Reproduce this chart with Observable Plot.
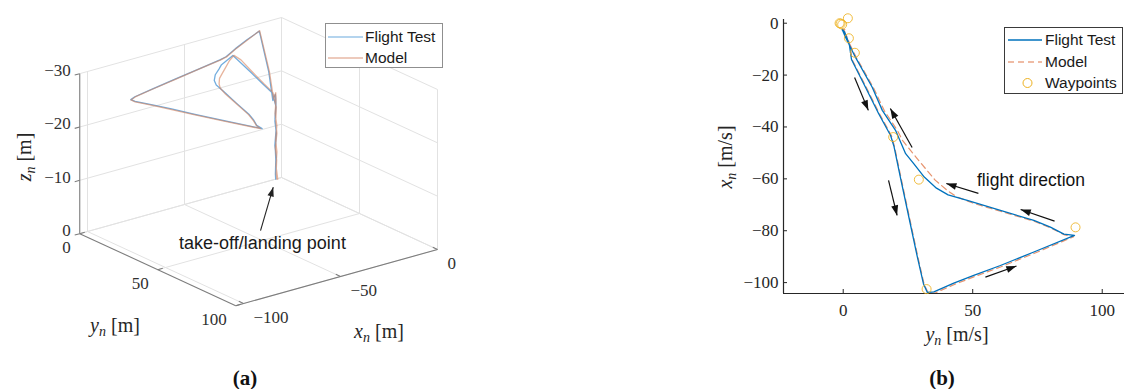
<!DOCTYPE html>
<html><head><meta charset="utf-8">
<script src="https://cdn.jsdelivr.net/npm/d3@7"></script>
<script src="https://cdn.jsdelivr.net/npm/@observablehq/plot@0.6"></script>
<style>
html,body{margin:0;padding:0;background:#fff;}
#root{position:relative;width:1125px;height:389px;overflow:hidden;background:#fff;}
.abs{position:absolute;}
.lbl{position:absolute;font-family:"Liberation Serif",serif;font-size:20px;color:#262626;white-space:nowrap;transform:translate(-50%,-50%);line-height:1;}
.lbl sub{font-size:0.7em;vertical-align:-0.3em;line-height:0;}
.lbl.rot{transform:translate(-50%,-50%) rotate(-90deg);}
.cap{position:absolute;font-family:"Liberation Serif",serif;font-weight:bold;font-size:21px;color:#111;transform:translate(-50%,-50%);line-height:1;}
.legend{position:absolute;background:#fff;box-sizing:border-box;font-family:"Liberation Sans",Arial,sans-serif;font-size:15.5px;color:#1a1a1a;}
.legend .row{position:absolute;left:0;height:20px;width:100%;}
.legend .row svg{position:absolute;left:0;top:0;}
.legend .row span{position:absolute;top:50%;transform:translateY(-50%);white-space:nowrap;line-height:1;}
</style></head><body><div id="root"></div>
<script>
// ---------------- data ----------------
// Flight test trajectory (x_n, y_n, z_n) [m]
const ftX = [-3.0,-3.5,-2.4,-3.9,-2.6,-4.0,-2.7,-3.4,-5.6,-8.5,-14.0,-24.7,-34.9,-43.3,-47.5,-60,-75,-90,-100.5,-103.8,-103.6,-100.2,-97.2,-93.4,-88.2,-81.8,-81.3,-78.6,-76.0,-72.2,-68.3,-66.2,-63.6,-59.3,-54.2,-50.3,-41.3,-33.6,-24.7,-13.1,-5.4,-2.6,-3.8,-2.5,-3.7,-2.7,-3.3,-3.0];
const ftY = [0.0,0.6,-0.4,0.6,-0.3,0.8,-0.2,0.3,1.4,2.4,3.2,8.6,13.7,18.3,19.6,22.2,25.4,28.6,31.0,32.5,35.0,42.7,50.4,60.7,73.6,89.3,85.2,80.0,73.6,60.7,47.9,40.5,36.0,31.3,27.3,24.1,20.2,15.1,11.2,4.7,0.9,-0.3,0.5,-0.2,0.6,-0.3,0.2,0.0];
const ftZ = [0,-2,-4,-6.5,-9,-11.5,-14,-16,-15.2,-21,-29.3,-29.5,-29.5,-29.5,-29.5,-29.5,-29.5,-29.5,-29.5,-29.5,-29.5,-29.5,-29.5,-29.5,-29.5,-29.5,-29.5,-29.5,-29.5,-29.5,-29.5,-29.5,-29.5,-29.5,-29.5,-29.5,-29.8,-27.1,-23.7,-19.4,-16.5,-13.5,-11,-8.5,-6,-3.5,-1,0];
// Model trajectory (x_n, y_n, z_n) [m]
const mdX = [-2.4,-3.0,-2.2,-3.6,-2.4,-3.8,-2.9,-3.3,-5.3,-8.3,-14.0,-24.7,-34.9,-43.3,-47.5,-60,-75,-90,-100.5,-104.0,-104.0,-100.8,-97.8,-94.0,-88.8,-82.3,-81.6,-79.0,-76.3,-72.5,-69.5,-67.0,-64.5,-60.5,-56.8,-51.5,-45.2,-41.3,-33.6,-24.7,-13.1,-5.5,-2.8,-3.5,-2.3,-3.6,-2.5,-3.1,-2.6];
const mdY = [0.6,0.2,-0.2,0.7,0.0,0.6,0.1,0.4,1.5,2.6,3.4,8.9,14.0,18.6,19.8,22.4,25.6,28.8,31.2,32.8,35.5,42.7,50.4,60.7,73.6,89.0,85.5,80.2,73.6,60.7,50.5,44.0,40.2,35.5,32.4,28.0,22.9,20.9,15.8,11.6,5.0,1.3,0.1,0.7,-0.1,0.5,0.0,0.4,0.3];
const mdZ = [0,-2.5,-5,-7.5,-10,-12.5,-15,-16.3,-15.5,-21,-29.4,-29.5,-29.5,-29.5,-29.5,-29.5,-29.5,-29.5,-29.5,-29.5,-29.5,-29.5,-29.5,-29.5,-29.5,-29.5,-29.5,-29.5,-29.5,-29.5,-29.5,-29.5,-29.5,-29.5,-29.5,-29.5,-29.6,-29.9,-27.6,-24.0,-19.6,-16.7,-13.5,-11,-8.5,-6,-3.5,-1,0];
// Waypoints (x_n, y_n)
const wpX = [1.9,-0.2,-0.5,0.0,-5.8,-11.4,-43.9,-60.3,-78.7,-102.5];
const wpY = [1.8,-1.0,-0.4,-1.4,2.2,4.5,19.3,29.2,89.7,32.2];
// Panel (a) axes
const xTicksA = [-100,-50,0];
const yTicksA = [0,50,100];
const zTicksA = [-30,-20,-10,0];
const xLimA = [-104,0];
const yLimA = [0,100];
const zLimA = [-30,0];
// Panel (b) axes (horizontal: y_n, vertical: x_n)
const hTicksB = [0,50,100];
const vTicksB = [-100,-80,-60,-40,-20,0];
const hLimB = [-23.05,108.6];
const vLimB = [-104.2,1.43];
// Legend / annotation texts
const seriesNames = ["Flight Test","Model","Waypoints"];
const annotA = {x:-52.1, y:52.6, text:"take-off/landing point", tail:[-43.7,40.9], tip:[-9.4,6.4]};
const annotB = {h:72.5, v:-60.6, text:"flight direction"};
// flight direction arrows (y_n, x_n) tail -> head
const arrH1 = [4.4,26.6,17.5,52.2,81.6,54.9];
const arrV1 = [-20.9,-47.9,-60.6,-65.6,-76.3,-97.9];
const arrH2 = [9.7,18.2,20.8,39.8,68.5,66.9];
const arrV2 = [-33.6,-32.9,-74.1,-61.8,-71.8,-93.6];

// --------------- helpers ---------------
const fmt = d => (d < 0 ? "\u2212" + Math.abs(d) : String(d));
const headSym = {draw(ctx, size){const r=Math.sqrt(size/Math.PI);const L=2.6*r,w=0.9*r;ctx.moveTo(0,0);ctx.lineTo(w,L);ctx.lineTo(-w,L);ctx.closePath();}};
const ft = ftX.map((x,i)=>({xn:x, yn:ftY[i], zn:ftZ[i]}));
const md = mdX.map((x,i)=>({xn:x, yn:mdY[i], zn:mdZ[i]}));
const wp = wpX.map((x,i)=>({xn:x, yn:wpY[i]}));

// 3D orthographic view of panel (a)
const O=[281,177], EX=[1.94,-0.54], EY=[1.56,0.72], EZ=5.333;
const P = (x,y,z) => [O[0]+x*EX[0]+y*EY[0], O[1]+x*EX[1]+y*EY[1]+z*EZ];
const seg = (a,b) => {const p=P(...a), q=P(...b); return {u1:p[0],v1:p[1],u2:q[0],v2:q[1]};};

const grid = [];
for (const x of xTicksA) grid.push(seg([x,yLimA[0],0],[x,yLimA[1],0]));
for (const y of yTicksA) grid.push(seg([xLimA[0],y,0],[xLimA[1],y,0]));
for (const x of xTicksA) grid.push(seg([x,yLimA[0],zLimA[0]],[x,yLimA[0],zLimA[1]]));
for (const z of zTicksA) grid.push(seg([xLimA[0],yLimA[0],z],[xLimA[1],yLimA[0],z]));
for (const y of yTicksA) grid.push(seg([xLimA[1],y,zLimA[0]],[xLimA[1],y,zLimA[1]]));
for (const z of zTicksA) grid.push(seg([xLimA[1],yLimA[0],z],[xLimA[1],yLimA[1],z]));

const axesA = [
  seg([xLimA[0],yLimA[0],zLimA[0]],[xLimA[0],yLimA[0],zLimA[1]]),
  seg([xLimA[0],yLimA[0],0],[xLimA[0],yLimA[1],0]),
  seg([xLimA[0],yLimA[1],0],[xLimA[1],yLimA[1],0])
];
for (const z of zTicksA) axesA.push(seg([xLimA[0],yLimA[0],z],[xLimA[0]-2.6,yLimA[0],z]));
for (const y of yTicksA) axesA.push(seg([xLimA[0],y,0],[xLimA[0]+2.6,y,0]));
for (const x of xTicksA) axesA.push(seg([x,yLimA[1],0],[x,yLimA[1]-3,0]));

const zLab = zTicksA.map(z=>{const p=P(xLimA[0],yLimA[0],z);return {u:p[0],v:p[1],t:fmt(z)};});
const yLab = yTicksA.map(y=>{const p=P(xLimA[0],y,0);return {u:p[0],v:p[1],t:fmt(y)};});
const xLab = xTicksA.map(x=>{const p=P(x,yLimA[1],0);return {u:p[0],v:p[1],t:fmt(x)};});

const ftA = ft.map(d=>{const p=P(d.xn,d.yn,d.zn);return {u:p[0],v:p[1]};});
const mdA = md.map(d=>{const p=P(d.xn,d.yn,d.zn);return {u:p[0],v:p[1]};});
const tA = P(annotA.tail[0],annotA.tail[1],0), hA = P(annotA.tip[0],annotA.tip[1],0), txA = P(annotA.x,annotA.y,0);
const arrA = [{u1:tA[0],v1:tA[1],u2:hA[0],v2:hA[1],rot:Math.atan2(hA[0]-tA[0],-(hA[1]-tA[1]))*180/Math.PI}];
const txtA = [{u:txA[0],v:txA[1],t:annotA.text}];

const tickTextA = {x:"u",y:"v",text:"t",fill:"#303030",fontSize:17,letterSpacing:"0.5px"};
const plotA = Plot.plot({
  width:460, height:389, margin:0,
  x:{type:"identity", axis:null}, y:{type:"identity", axis:null},
  style:{background:"transparent", fontFamily:"Liberation Serif", fontSize:"17px"},
  marks:[
    Plot.link(grid,{x1:"u1",y1:"v1",x2:"u2",y2:"v2",stroke:"#e2e2e2",strokeWidth:1}),
    Plot.link(axesA,{x1:"u1",y1:"v1",x2:"u2",y2:"v2",stroke:"#7d7d7d",strokeWidth:1.1}),
    Plot.text(zLab,{...tickTextA,textAnchor:"end",dx:-9,dy:-3}),
    Plot.text(yLab,{...tickTextA,textAnchor:"end",dx:-9,dy:14}),
    Plot.text(xLab,{...tickTextA,textAnchor:"start",dx:10,dy:14}),
    Plot.line(ftA,{x:"u",y:"v",stroke:"#5b9fd8",strokeWidth:1.3,strokeOpacity:0.85}),
    Plot.line(mdA,{x:"u",y:"v",stroke:"#d7825c",strokeWidth:1.3,strokeOpacity:0.6}),
    Plot.link(arrA,{x1:"u1",y1:"v1",x2:"u2",y2:"v2",stroke:"#222",strokeWidth:1.1}),
    Plot.dot(arrA,{x:"u2",y:"v2",symbol:headSym,r:3.6,fill:"#222",stroke:"none",rotate:"rot"}),
    Plot.text(txtA,{x:"u",y:"v",text:"t",fontFamily:"Liberation Sans",fontSize:18,fill:"#1a1a1a"})
  ]
});

// --------------- panel (b) ---------------
const WB=425, HB=340, mL=83, mR=1, mT=19, mB=47;
const pw = WB-mL-mR, ph = HB-mT-mB;
const kx = pw/(hLimB[1]-hLimB[0]), ky = ph/(vLimB[1]-vLimB[0]);
const arrB = arrH1.map((h,i)=>({h1:h,v1:arrV1[i],h2:arrH2[i],v2:arrV2[i],
  rot:Math.atan2((arrH2[i]-h)*kx, (arrV2[i]-arrV1[i])*ky)*180/Math.PI}));

const plotB = Plot.plot({
  width:WB, height:HB, marginLeft:mL, marginRight:mR, marginTop:mT, marginBottom:mB,
  x:{domain:hLimB}, y:{domain:vLimB},
  style:{background:"transparent", fontFamily:"Liberation Serif", fontSize:"17px", color:"#262626"},
  marks:[
    Plot.ruleX([hLimB[0]],{stroke:"#262626",strokeWidth:1.2}),
    Plot.ruleY([vLimB[0]],{stroke:"#262626",strokeWidth:1.2}),
    Plot.tickX(hTicksB,{x:d=>d,insetTop:ph-4,stroke:"#262626"}),
    Plot.tickY(vTicksB,{y:d=>d,insetRight:pw-4,stroke:"#262626"}),
    Plot.axisX({ticks:hTicksB,tickSize:0,tickPadding:10,tickFormat:fmt,label:null,fill:"#262626",letterSpacing:"0.5px"}),
    Plot.axisY({ticks:vTicksB,tickSize:0,tickPadding:5,tickFormat:fmt,label:null,fill:"#262626",letterSpacing:"0.5px"}),
    Plot.line(md,{x:"yn",y:"xn",stroke:"#E0784A",strokeWidth:1.2,strokeDasharray:"6,4",strokeOpacity:0.8,clip:true}),
    Plot.line(ft,{x:"yn",y:"xn",stroke:"#0072BD",strokeWidth:1.3,clip:true}),
    Plot.dot(wp,{x:"yn",y:"xn",r:4.5,stroke:"#EDB120",strokeOpacity:0.85,fill:"none",strokeWidth:1}),
    Plot.link(arrB,{x1:"h1",y1:"v1",x2:"h2",y2:"v2",stroke:"#111",strokeWidth:1.2}),
    Plot.dot(arrB,{x:"h2",y:"v2",symbol:headSym,r:3.9,fill:"#111",stroke:"none",rotate:"rot"}),
    Plot.text([annotB],{x:"h",y:"v",text:"text",fontFamily:"Liberation Sans",fontSize:17.5,fill:"#111"})
  ]
});

// --------------- assemble ---------------
const root = document.getElementById("root");
const wrapA = document.createElement("div"); wrapA.className="abs"; wrapA.style.left="0px"; wrapA.style.top="0px"; wrapA.appendChild(plotA); root.appendChild(wrapA);
const wrapB = document.createElement("div"); wrapB.className="abs"; wrapB.style.left="700px"; wrapB.style.top="0px"; wrapB.appendChild(plotB); root.appendChild(wrapB);

function label(html, cx, cy, rot){const s=document.createElement("div");s.className="lbl"+(rot?" rot":"");s.innerHTML=html;s.style.left=cx+"px";s.style.top=cy+"px";root.appendChild(s);}
label("<i>z</i><sub><i>n</i></sub>&nbsp;[m]",24,157,true);
label("<i>y</i><sub><i>n</i></sub>&nbsp;[m]",115,325,false);
label("<i>x</i><sub><i>n</i></sub>&nbsp;[m]",379,331,false);
label("<i>x</i><sub><i>n</i></sub>&nbsp;[m/s]",725,157,true);
label("<i>y</i><sub><i>n</i></sub>&nbsp;[m/s]",957,334,false);

function cap(t,cx,cy){const s=document.createElement("div");s.className="cap";s.textContent=t;s.style.left=cx+"px";s.style.top=cy+"px";root.appendChild(s);}
cap("(a)",245,378); cap("(b)",942,378);

function legend(x,y,w,h,border,rows){
  const L=document.createElement("div");L.className="legend";
  Object.assign(L.style,{left:x+"px",top:y+"px",width:w+"px",height:h+"px",border:border});
  rows.forEach(r=>{
    const row=document.createElement("div");row.className="row";row.style.top=(r.cy-10)+"px";
    let sw;
    if(r.type==="line") sw=`<svg width="40" height="20"><line x1="${r.x1}" x2="${r.x2}" y1="10" y2="10" stroke="${r.color}" stroke-width="${r.w}" ${r.dash?`stroke-dasharray="${r.dash}"`:""}/></svg>`;
    else sw=`<svg width="40" height="20"><circle cx="${r.cx}" cy="10" r="4.5" fill="none" stroke="${r.color}" stroke-width="1"/></svg>`;
    row.innerHTML=sw+`<span style="left:${r.tx}px">${r.text}</span>`;
    L.appendChild(row);
  });
  root.appendChild(L);
}
legend(325,23,118,45,"1px solid #8f8f8f",[
  {type:"line",x1:2,x2:37,color:"#6aa9dd",w:1.2,cy:13,tx:39,text:seriesNames[0]},
  {type:"line",x1:2,x2:37,color:"#dc967a",w:1.2,cy:34,tx:39,text:seriesNames[1]}
]);
legend(1004,27,119,67,"1.3px solid #3a3a3a",[
  {type:"line",x1:3,x2:37,color:"#0072BD",w:1.4,cy:12,tx:40,text:seriesNames[0]},
  {type:"line",x1:3,x2:37,color:"#E0784A",w:1.2,dash:"6,4",cy:33.5,tx:40,text:seriesNames[1]},
  {type:"circle",cx:22.5,color:"#EDB120",cy:54.5,tx:40,text:seriesNames[2]}
]);
</script></body></html>
